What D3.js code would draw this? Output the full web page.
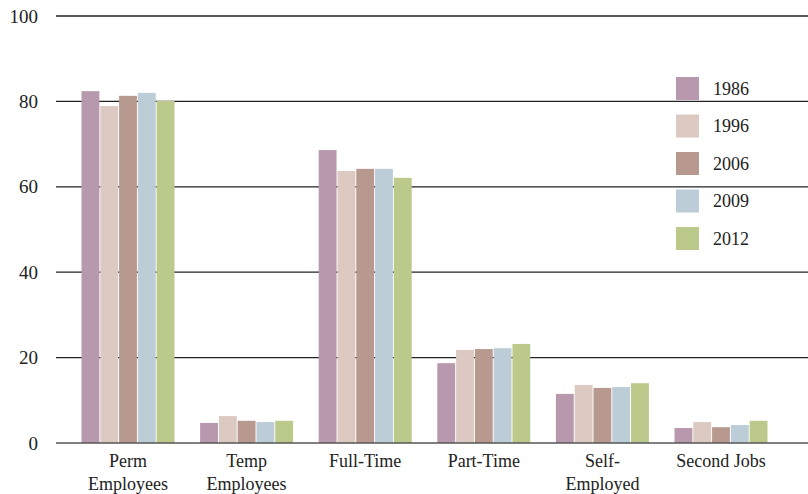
<!DOCTYPE html>
<html><head><meta charset="utf-8">
<script src="https://cdn.jsdelivr.net/npm/d3@7"></script>
<style>body{margin:0;background:#fff}svg{display:block}</style>
</head><body>
<script>
const categories = [["Perm","Employees"],["Temp","Employees"],["Full-Time"],["Part-Time"],["Self-","Employed"],["Second Jobs"]];
const years = ["1986","1996","2006","2009","2012"];
const v1986 = [82.4, 4.7, 68.6, 18.7, 11.5, 3.5];
const v1996 = [78.9, 6.3, 63.7, 21.8, 13.6, 4.9];
const v2006 = [81.3, 5.2, 64.2, 22.0, 12.9, 3.7];
const v2009 = [82.0, 4.9, 64.2, 22.2, 13.1, 4.2];
const v2012 = [80.1, 5.2, 62.1, 23.2, 14.0, 5.2];
const series = [v1986, v1996, v2006, v2009, v2012];
const colors = ["#b898ad","#dcc9c1","#b8998f","#bccdd7","#bbc98b"];
const yTicks = [0,20,40,60,80,100];

const W=808,H=494;
const svg=d3.select("body").append("svg").attr("width",W).attr("height",H);
const font="'Liberation Serif', serif";
const y=d3.scaleLinear().domain([0,100]).range([443,16]);
const x0=d3.scaleBand().domain(d3.range(categories.length)).range([68.7,780.3]).paddingInner(0.216).paddingOuter(0.108);
const x1=d3.scaleBand().domain(d3.range(years.length)).range([0,x0.bandwidth()]).paddingInner(0.05);

// gridlines
const grid=svg.append("g");
grid.selectAll("line").data(yTicks.filter(d=>d>0)).join("line")
  .attr("x1",56).attr("x2",W).attr("y1",d=>y(d)).attr("y2",d=>y(d))
  .attr("stroke","#222").attr("stroke-width",1.3);
// tick labels
svg.append("g").selectAll("text").data(yTicks).join("text")
  .attr("x",38).attr("y",d=>y(d)).attr("dy","0.35em").attr("text-anchor","end")
  .attr("font-family",font).attr("font-size",19).attr("fill","#222").text(d=>d);

// bars
const groups=svg.append("g").selectAll("g").data(categories.map((c,i)=>i)).join("g")
  .attr("transform",i=>`translate(${x0(i)},0)`);
groups.selectAll("rect").data(i=>series.map((s,k)=>({k,v:s[i]}))).join("rect")
  .attr("x",d=>x1(d.k)).attr("width",x1.bandwidth())
  .attr("y",d=>y(d.v)).attr("height",d=>y(0)-y(d.v)).attr("fill",d=>colors[d.k]);

// baseline
svg.append("line").attr("x1",56).attr("x2",W).attr("y1",y(0)).attr("y2",y(0))
  .attr("stroke","#555").attr("stroke-opacity",0.75).attr("stroke-width",2);

// category labels
const cl=svg.append("g").selectAll("text").data(categories).join("text")
  .attr("x",(d,i)=>x0(i)+x0.bandwidth()/2).attr("y",467).attr("text-anchor","middle")
  .attr("font-family",font).attr("font-size",18).attr("fill","#222");
cl.selectAll("tspan").data(d=>d).join("tspan")
  .attr("x",function(){return this.parentNode.getAttribute("x");})
  .attr("dy",(d,j)=>j===0?0:23).text(d=>d);

// legend
const lg=svg.append("g").selectAll("g").data(years).join("g")
  .attr("transform",(d,i)=>`translate(676,${77+i*37.5})`);
lg.append("rect").attr("width",23).attr("height",23).attr("fill",(d,i)=>colors[i]);
lg.append("text").attr("x",37).attr("y",11.5).attr("dy","0.35em")
  .attr("font-family",font).attr("font-size",18).attr("fill","#222").text(d=>d);
</script>
</body></html>
